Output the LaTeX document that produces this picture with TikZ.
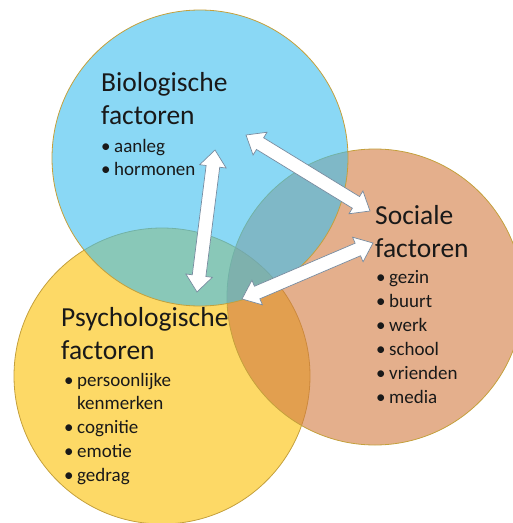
\documentclass[tikz,border=0pt]{standalone}
\usepackage{fontspec}
\setmainfont{Carlito}
\usetikzlibrary{shapes.arrows,calc}
\definecolor{bioblue}{RGB}{60,190,238}
\definecolor{socorange}{RGB}{210,122,63}
\definecolor{psyyellow}{RGB}{252,192,0}
\definecolor{rimgold}{RGB}{196,160,60}
\definecolor{arrowgrey}{RGB}{120,140,160}
\definecolor{txt}{RGB}{25,25,25}
\tikzset{
circ/.style = {circle, minimum size=296pt, inner sep=0pt, draw=rimgold, line width=0.8pt, fill opacity=0.6},
twoway/.style = {double arrow, draw=arrowgrey, fill=white, line width=0.7pt, inner xsep=0pt, inner ysep=6.5pt,
  double arrow head extend=6.5pt, double arrow tip angle=78},
title/.style = {anchor=base west, inner sep=0pt, text=txt, font=\fontsize{27.5}{33}\selectfont},
item/.style = {anchor=base west, inner sep=0pt, text=txt, font=\fontsize{19}{24}\selectfont}
}
\newcommand\bul{\makebox[13pt][l]{•}}
\newcommand\nobul{\hspace*{13pt}}
% block arrow with a tip on both ends, from #1 to #2, named #3
\newcommand\linkarrow[3]{\path let \p1=($(#2)-(#1)$), \n1={veclen(\x1,\y1)}, \n2={atan2(\y1,\x1)} in
  node[twoway, minimum height=\n1, rotate=\n2] (#3) at ($(#1)!0.5!(#2)$) {};}

\begin{document}
\begin{tikzpicture}[x=1pt,y=-1pt]
\useasboundingbox (0,0) rectangle (513,523);
% circles
\node[circ, fill=psyyellow] (psy) at (162,376) {};
\node[circ, fill=socorange] (soc) at (375,297) {};
\node[circ, fill=bioblue] (bio) at (200,158) {};
% arrows
\coordinate (bioA) at (215,150); \coordinate (psyA) at (197,292);
\coordinate (bioB) at (246,135); \coordinate (socB) at (370,211);
\coordinate (socC) at (373,243); \coordinate (psyC) at (242,299);
\linkarrow{bioA}{psyA}{arrBP}
\linkarrow{bioB}{socB}{arrBS}
\linkarrow{socC}{psyC}{arrSP}
% texts
\node[title, align=left] (biotitle) at (101,124) {Biologische\\factoren};
\foreach \t [count=\i from 0] in {aanleg,hormonen}
  \node[item] (bioitem\i) at (101,152+23*\i) {\bul\t};
\node[title, align=left] (soctitle) at (375,257) {Sociale\\factoren};
\foreach \t [count=\i from 0] in {gezin,buurt,werk,school,vrienden,media}
  \node[item] (socitem\i) at (376,283+24*\i) {\bul\t};
\node[title, align=left] (psytitle) at (61,359) {Psychologische\\factoren};
\foreach \t [count=\i from 0] in {\bul persoonlijke,\nobul kenmerken,\bul cognitie,\bul emotie,\bul gedrag}
  \node[item] (psyitem\i) at (64,386+23.8*\i) {\t};
\end{tikzpicture}
\end{document}
